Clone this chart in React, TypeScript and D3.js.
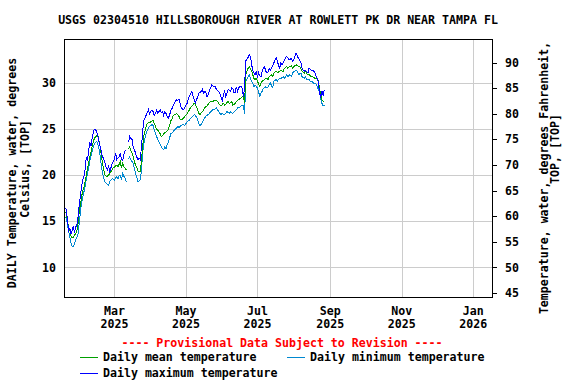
import React from "react";
import * as d3 from "d3";

const TITLE = "USGS 02304510 HILLSBOROUGH RIVER AT ROWLETT PK DR NEAR TAMPA FL";
const START_DATE = Date.UTC(2025, 0, 17);
const DOMAIN_START = new Date(Date.UTC(2025, 0, 17));
const DOMAIN_END = new Date(Date.UTC(2026, 0, 17));

const maxTemp: (number | null)[] = [
  16.0, 16.4, 16.3, 15.1, 14.0, 14.2, 13.6, 14.0, 14.5, 13.8,
  14.4, 14.6, 15.5, 16.8, 17.7, 18.8, 19.5, 19.9, 20.6, 22.0,
  21.6, 22.7, 23.5, 23.2, 24.0, 24.7, 25.0, 24.9, 24.7, 24.2,
  23.5, 23.1, 22.4, 22.0, 21.7, 21.3, 20.8, 20.6, 21.0, 20.4,
  20.8, 21.3, 21.5, 21.8, 22.4, 21.7, 21.9, 22.0, 22.4, 21.7,
  21.6, 22.2, 22.6, 22.8, null, 23.6, 24.2, 24.0, 23.9, 23.1,
  22.8, 22.4, 22.0, 21.7, 21.9, 21.7, 23.0, 24.6, 25.9, 26.2,
  26.5, 26.8, 27.1, 26.7, 26.9, 27.1, 26.9, 26.5, 26.7, 27.1,
  26.7, 26.9, 27.1, 26.8, 26.9, 26.5, 26.9, 26.7, 26.4, 26.2,
  26.5, 27.0, 27.2, 27.5, 27.8, 28.0, 28.2, 28.1, 28.25, 27.8,
  27.3, 27.2, 27.1, 27.4, 27.6, 27.8, 28.3, 28.6, 28.8, 29.1,
  28.6, 28.2, 27.8, 28.2, 28.5, 28.9, 29.0, 29.1, 29.3, 28.9,
  29.1, 29.0, 28.5, 28.8, 29.2, 29.5, 29.8, 29.7, 29.6, 29.6,
  29.3, 29.2, 29.1, 28.8, 28.5, 28.0, 28.8, 29.1, 28.5, 28.9,
  29.3, 29.2, 29.1, 29.5, 29.4, 28.9, 29.0, 29.6, 29.1, 29.5,
  29.6, 29.7, 29.4, 28.5, 29.6, 32.4, 32.6, 32.8, 33.1, 32.9,
  32.0, 31.4, 31.1, 30.9, 31.3, 30.6, 31.1, 30.8, 30.7, 31.3,
  31.6, 31.8, 31.3, 31.1, 31.2, 31.6, 31.4, 31.7, 31.9, 32.2,
  32.5, 32.7, 32.35, 31.9, 31.6, 32.2, 32.0, 32.2, 32.5, 32.8,
  32.9, 32.7, 32.5, 32.6, 32.7, 32.35, 32.6, 32.9, 33.25, 32.9,
  32.7, 32.5, 32.2, 31.6, 31.4, 31.3, 31.4, 31.2, 31.1, 31.6,
  31.5, 31.4, 31.4, 31.3, 31.1, 30.7, 30.5, 30.0, 28.9, 28.5,
  29.1, 28.7, 29.3,
];

const meanTemp: (number | null)[] = [
  16.0, 16.0, 15.9, 15.0, 14.3, 14.1, 13.4, 13.2, 13.3, 13.5,
  13.7, 14.0, 14.8, 16.0, 16.8, 17.7, 18.3, 18.7, 19.3, 20.0,
  20.7, 21.3, 22.0, 22.5, 23.1, 23.7, 24.0, 24.2, 24.3, 24.2,
  23.6, 23.0, 22.0, 21.2, 20.5, 20.0, 19.9, 19.9, 20.0, 20.2,
  20.4, 20.6, 20.8, 20.9, 21.0, 21.1, 20.9, 21.2, 21.5, 20.8,
  21.3, 20.9, 20.8, 20.6, null, 22.8, 23.1, 22.7, 22.4, 22.0,
  21.5, 21.1, 20.9, 20.5, 20.4, 20.4, 21.5, 23.0, 24.2, 24.8,
  25.3, 25.6, 25.7, 25.7, 25.8, 25.9, 26.0, 25.6, 25.3, 25.0,
  24.9, 24.7, 24.5, 24.2, 24.3, 24.5, 24.6, 24.7, 24.8, 25.0,
  25.4, 25.9, 26.1, 26.4, 26.6, 26.6, 26.7, 26.6, 26.4, 26.1,
  26.0, 26.1, 26.2, 26.4, 26.5, 26.7, 26.9, 27.1, 27.4, 27.5,
  27.6, 27.8, 27.7, 27.4, 27.1, 26.7, 26.6, 26.8, 26.9, 27.1,
  27.3, 27.5, 27.5, 27.7, 27.9, 28.0, 28.0, 28.0, 28.1, 28.1,
  28.1, 28.0, 27.8, 27.6, 27.5, 27.7, 27.8, 27.6, 27.7, 27.9,
  28.0, 27.8, 27.9, 28.0, 27.6, 27.7, 27.8, 28.0, 28.1, 28.2,
  28.3, 28.4, 28.5, 28.6, 27.8, 30.9, 31.3, 31.6, 31.8, 31.5,
  31.3, 30.9, 30.5, 30.4, 30.5, 30.2, 29.9, 29.6, 30.0, 30.2,
  30.3, 30.4, 30.5, 30.5, 30.4, 30.7, 30.8, 30.9, 30.7, 31.1,
  31.2, 31.3, 31.1, 31.2, 31.3, 31.4, 31.3, 31.3, 31.6, 31.7,
  31.8, 31.6, 31.8, 31.8, 31.9, 31.6, 31.8, 31.9, 32.0, 31.9,
  31.8, 31.8, 31.6, 31.3, 31.2, 31.1, 31.3, 31.0, 30.9, 30.9,
  30.8, 30.7, 30.7, 30.6, 30.5, 30.5, 30.4, 30.2, 29.4, 28.7,
  28.2, 28.0, 28.0,
];

const minTemp: (number | null)[] = [
  15.1, 15.4, 15.5, 14.6, 13.9, 13.3, 12.6, 12.3, 12.25, 12.6,
  13.0, 13.3, 13.7, 14.8, 16.0, 17.0, 17.6, 18.2, 18.8, 19.6,
  20.2, 20.8, 21.5, 22.1, 22.6, 23.1, 23.4, 23.6, 23.7, 23.3,
  22.8, 22.0, 20.9, 20.2, 19.6, 19.3, 19.1, 19.0, 18.9, 19.3,
  19.5, 19.6, 19.6, 19.5, 19.7, 19.9, 19.6, 20.0, 20.0, 19.5,
  20.2, 19.9, 19.7, 19.3, null, 21.8, 22.0, 21.7, 21.5, 21.3,
  20.8, 20.2, 19.8, 19.3, 19.4, 19.5, 20.5, 22.3, 23.4, 24.0,
  24.5, 24.9, 25.1, 25.3, 25.4, 25.5, 25.4, 24.9, 24.5, 24.2,
  23.9, 23.6, 23.4, 23.1, 22.9, 22.8, 23.1, 22.9, 23.3, 23.6,
  24.0, 24.5, 24.6, 24.7, 24.9, 25.0, 25.1, 25.3, 25.2, 25.3,
  25.4, 25.5, 25.5, 25.4, 25.6, 25.8, 25.9, 26.0, 26.2, 26.3,
  26.4, 26.6, 26.5, 26.3, 26.0, 25.6, 25.4, 25.5, 25.8, 26.0,
  26.2, 26.4, 26.5, 26.6, 26.7, 26.9, 27.0, 27.1, 27.1, 27.2,
  27.3, 27.1, 26.9, 26.7, 26.6, 26.7, 26.6, 26.6, 26.7, 26.9,
  26.8, 26.7, 26.9, 26.8, 26.7, 26.9, 27.0, 27.1, 27.3, 27.3,
  27.4, 27.5, 27.6, 27.6, 26.6, 30.2, 30.4, 30.7, 30.9, 30.5,
  30.2, 30.0, 29.6, 29.8, 29.6, 29.5, 29.0, 28.6, 28.9, 29.1,
  29.4, 29.5, 29.6, 29.5, 29.6, 29.8, 30.0, 29.7, 29.5, 30.2,
  30.3, 30.4, 30.2, 30.4, 30.5, 30.5, 30.6, 30.7, 30.5, 30.7,
  30.9, 30.7, 30.9, 30.8, 30.7, 31.1, 31.3, 31.3, 31.4, 31.3,
  30.9, 31.0, 31.1, 30.7, 30.6, 30.5, 30.7, 30.4, 30.4, 30.4,
  30.2, 30.2, 30.1, 30.0, 30.0, 29.9, 29.6, 29.3, 28.9, 28.2,
  27.8, 27.5, 27.6,
];

const celsiusTicks = [10, 15, 20, 25, 30];
const fahrenheitTicks = [45, 50, 55, 60, 65, 70, 75, 80, 85, 90];
const monthTicks = [
  Date.UTC(2025, 2, 1), Date.UTC(2025, 4, 1), Date.UTC(2025, 6, 1),
  Date.UTC(2025, 8, 1), Date.UTC(2025, 10, 1), Date.UTC(2026, 0, 1),
];
const monthLabels = ["Mar", "May", "Jul", "Sep", "Nov", "Jan"];
const yearLabels = ["2025", "2025", "2025", "2025", "2025", "2026"];

const legendItems = [
  { label: "Daily mean temperature", color: "#00a000" },
  { label: "Daily minimum temperature", color: "#0088d0" },
  { label: "Daily maximum temperature", color: "#0000ff" },
];

const FONT = "'DejaVu Sans Mono', monospace";

export default function App() {
  const L = 64, R = 492, T = 39, B = 297;
  const x = d3.scaleUtc().domain([DOMAIN_START, DOMAIN_END]).range([L, R]);
  const y = d3.scaleLinear().domain([6.8, 34.78]).range([B, T]);
  const yF = (f: number) => y(((f - 32) * 5) / 9);
  const day = (i: number) => new Date(START_DATE + i * 86400000);

  const makeLine = (vals: (number | null)[]) =>
    d3
      .line<number | null>()
      .defined((v) => v != null)
      .x((_, i) => x(day(i)))
      .y((v) => y(v as number))(vals) || "";

  const textStyle: React.CSSProperties = {
    fontFamily: FONT,
    fontWeight: "bold",
    fontSize: "11.6px",
  };

  return (
    <svg
      width={576}
      height={384}
      style={{ position: "absolute", left: 0, top: 0, background: "#fff" }}
    >
      <rect x={0} y={0} width={576} height={384} fill="#fff" />
      <text x={278} y={24} textAnchor="middle" style={textStyle} fill="#000">
        {TITLE}
      </text>

      {/* grid */}
      {celsiusTicks.map((c) => (
        <line key={"h" + c} x1={L} x2={R} y1={Math.round(y(c)) + 0.5} y2={Math.round(y(c)) + 0.5}
          stroke="#cccccc" strokeWidth={1} />
      ))}
      {monthTicks.map((t) => (
        <line key={"v" + t} y1={T} y2={B} x1={Math.round(x(new Date(t))) + 0.5} x2={Math.round(x(new Date(t))) + 0.5}
          stroke="#cccccc" strokeWidth={1} />
      ))}

      {/* series */}
      <g fill="none" strokeWidth={1} style={{ shapeRendering: "crispEdges" }}>
        <path d={makeLine(minTemp)} stroke="#0088d0" />
        <path d={makeLine(meanTemp)} stroke="#00a000" />
        <path d={makeLine(maxTemp)} stroke="#0000ff" />
      </g>

      {/* frame */}
      <rect x={L + 0.5} y={T + 0.5} width={R - L} height={B - T} fill="none" stroke="#000" strokeWidth={1} />

      {/* left ticks */}
      {celsiusTicks.map((c) => (
        <text key={"lc" + c} x={56} y={y(c)} dy="0.35em" textAnchor="end" style={textStyle}>
          {c}
        </text>
      ))}
      {/* right ticks */}
      {fahrenheitTicks.map((f) => (
        <g key={"rf" + f}>
          <line x1={R} x2={R + 5} y1={Math.round(yF(f)) + 0.5} y2={Math.round(yF(f)) + 0.5} stroke="#000" />
          <text x={505} y={yF(f)} dy="0.35em" textAnchor="start" style={textStyle}>
            {f}
          </text>
        </g>
      ))}

      {/* x labels */}
      {monthTicks.map((t, i) => (
        <g key={"xl" + t}>
          <text x={x(new Date(t))} y={311} dy="0.35em" textAnchor="middle" style={textStyle}>
            {monthLabels[i]}
          </text>
          <text x={x(new Date(t))} y={324} dy="0.35em" textAnchor="middle" style={textStyle}>
            {yearLabels[i]}
          </text>
        </g>
      ))}

      {/* axis titles */}
      <text transform="translate(12,173) rotate(-90)" dy="0.35em" textAnchor="middle" style={textStyle}>
        DAILY Temperature, water, degrees
      </text>
      <text transform="translate(25,169) rotate(-90)" dy="0.35em" textAnchor="middle" style={textStyle}>
        Celsius, [TOP]
      </text>
      <text transform="translate(544,178) rotate(-90)" dy="0.35em" textAnchor="middle" style={textStyle}>
        Temperature, water, degrees Fahrenheit,
      </text>
      <text transform="translate(555,149) rotate(-90)" dy="0.35em" textAnchor="middle" style={textStyle}>
        TOP, [TOP]
      </text>

      {/* provisional */}
      <text x={282} y={343} dy="0.35em" textAnchor="middle" style={textStyle} fill="#ff0000">
        ---- Provisional Data Subject to Revision ----
      </text>

      {/* legend */}
      {[
        { item: legendItems[0], lx: 80, ly: 357 },
        { item: legendItems[1], lx: 287, ly: 357 },
        { item: legendItems[2], lx: 80, ly: 373 },
      ].map(({ item, lx, ly }) => (
        <g key={item.label}>
          <rect x={lx} y={ly} width={18} height={1} fill={item.color} />
          <text x={lx + 23} y={ly} dy="0.35em" style={textStyle}>
            {item.label}
          </text>
        </g>
      ))}
    </svg>
  );
}
